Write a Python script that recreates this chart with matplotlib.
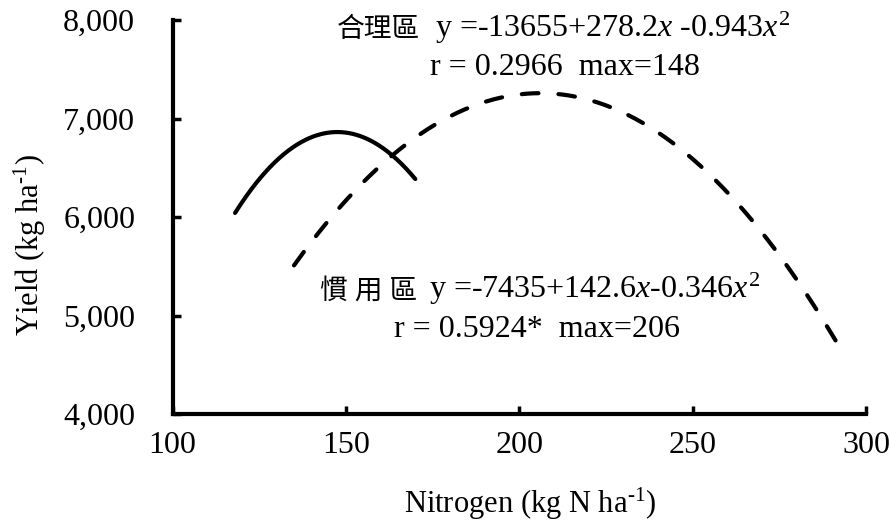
import numpy as np
import matplotlib.pyplot as plt
from matplotlib.ticker import FuncFormatter

plt.rcParams['font.family'] = ['Liberation Serif', 'Noto Sans CJK TC']
plt.rcParams['mathtext.fontset'] = 'custom'
plt.rcParams['mathtext.rm'] = 'Liberation Serif'
plt.rcParams['mathtext.it'] = 'Liberation Serif:italic'

# quadratic fits: y = c0 + c1*x + c2*x^2
reasonable_coef = [-13655, 278.2, -0.943]
reasonable_range = [118, 170]
custom_coef = [-7435, 142.6, -0.346]
custom_range = [135, 293]

x_ticks = [100, 150, 200, 250, 300]
y_ticks = [4000, 5000, 6000, 7000, 8000]


def quad(coef, x):
    return coef[0] + coef[1] * x + coef[2] * x ** 2


fig = plt.figure(figsize=(8.9, 5.27), dpi=100)
ax = fig.add_axes([0.194, 0.214, 0.779, 0.748])

x1 = np.linspace(*reasonable_range, 200)
x2 = np.linspace(*custom_range, 300)
ax.plot(x1, quad(reasonable_coef, x1), color='black', lw=3, solid_capstyle='round')
ax.plot(x2, quad(custom_coef, x2), color='black', lw=3, dashes=(4, 4.8),
        dash_capstyle='round')

ax.set_xlim(100, 300)
ax.set_ylim(4000, 8000)
ax.set_xticks(x_ticks)
ax.set_yticks(y_ticks)
ax.yaxis.set_major_formatter(FuncFormatter(lambda v, p: f'{int(v):,}'))

for s in ['top', 'right']:
    ax.spines[s].set_visible(False)
for s in ['left', 'bottom']:
    ax.spines[s].set_linewidth(3)
ax.tick_params(direction='in', length=6, width=2.5, labelsize=23)
ax.tick_params(axis='y', pad=27)
ax.tick_params(axis='x', pad=12)

ax.set_xlabel('Nitrogen (kg N ha$^{\\text{-1}}$)', fontsize=22, labelpad=19, x=0.515)
ax.set_ylabel('Yield (kg ha$^{\\text{-1}}$)', fontsize=22, labelpad=11, y=0.43)

# fit equations, Chinese names drawn separately so the CJK font is used
ax.text(0.237, 0.957, '合理區', transform=ax.transAxes, ha='left', va='baseline',
        fontsize=20)
ax.text(0.378, 0.957, 'y =-13655+278.2$x$ -0.943$x^{2}$', transform=ax.transAxes,
        ha='left', va='baseline', fontsize=23)
ax.text(0.566, 0.86, 'r = 0.2966  max=148', transform=ax.transAxes,
        ha='center', va='baseline', fontsize=23)

ax.text(0.212, 0.294, '慣 用 區', transform=ax.transAxes, ha='left', va='baseline',
        fontsize=20)
ax.text(0.370, 0.294, 'y =-7435+142.6$x$-0.346$x^{2}$', transform=ax.transAxes,
        ha='left', va='baseline', fontsize=23)
ax.text(0.525, 0.195, 'r = 0.5924*  max=206', transform=ax.transAxes,
        ha='center', va='baseline', fontsize=23)

fig.savefig('out.png', dpi=100)
